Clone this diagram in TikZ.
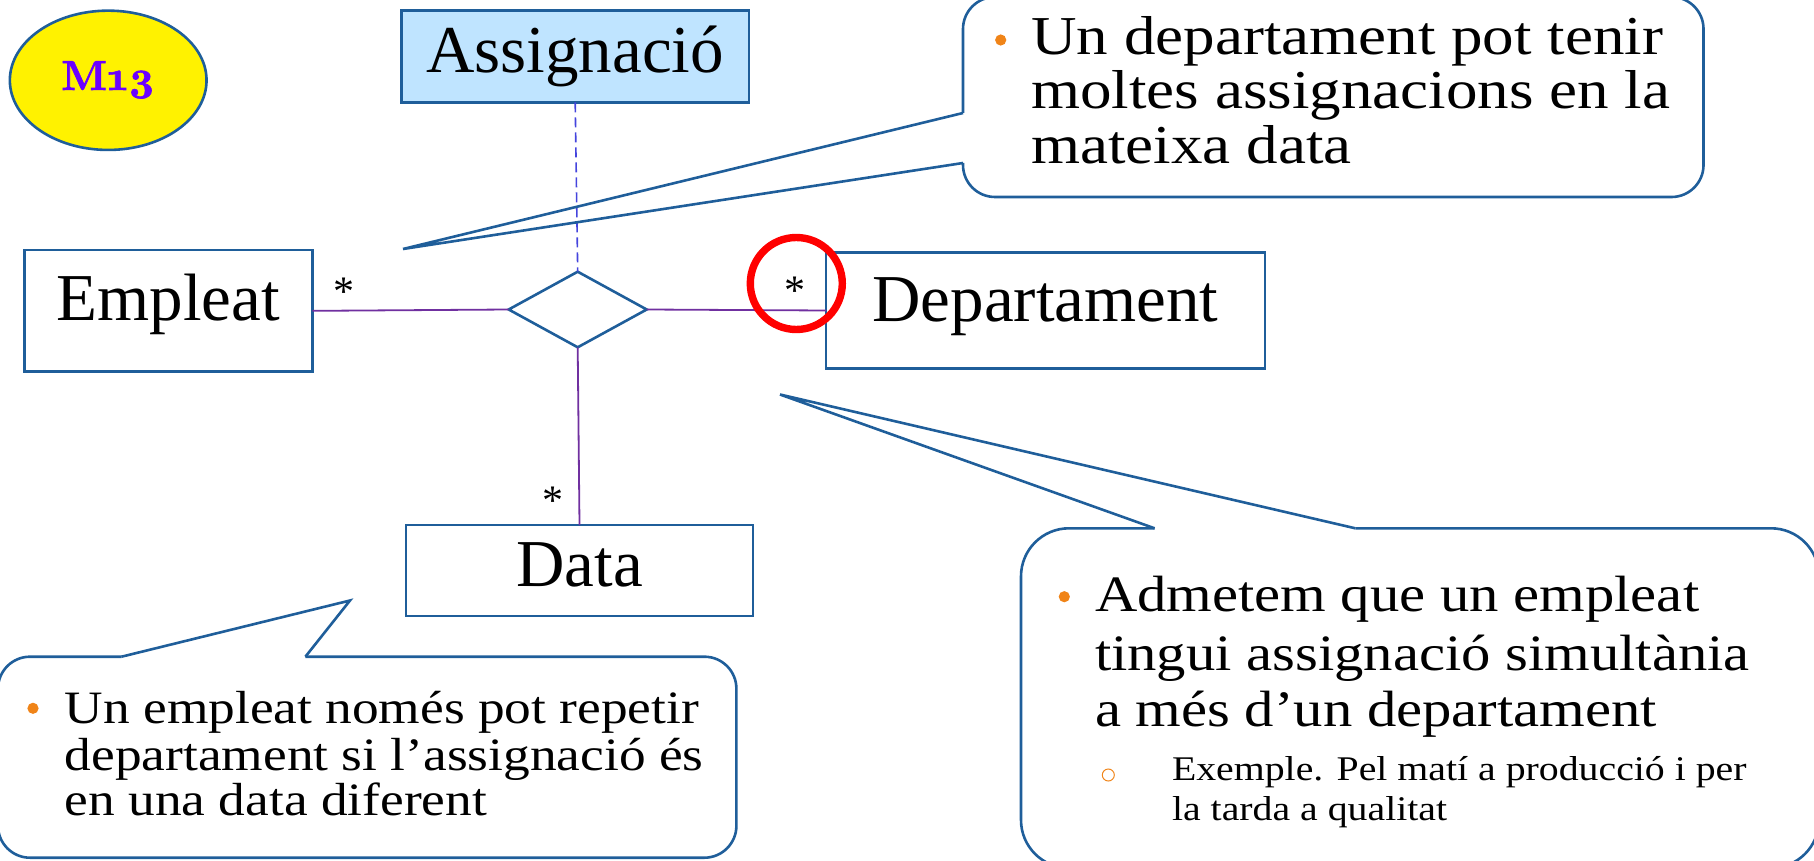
\documentclass[tikz,border=0pt]{standalone}
\usepackage{fontspec}
\setmainfont{Liberation Serif}
\newfontfamily\callfont{Liberation Serif}[FakeStretch=1.15]
\newfontfamily\mfont{lmroman10-bold}[Extension=.otf,Numbers=OldStyle,FakeBold=1.5]
\usetikzlibrary{shapes.geometric}
\definecolor{bord}{HTML}{1F5E9A}
\definecolor{lnk}{HTML}{7030A0}
\definecolor{dsh}{HTML}{4444DD}
\definecolor{orng}{HTML}{F08418}
\definecolor{mpurple}{HTML}{6A00FF}
\definecolor{lblue}{HTML}{BFE4FF}
\begin{document}
\begin{tikzpicture}[x=0.5pt,y=-0.5pt,
  entity/.style={draw=bord, line width=1.3pt, inner sep=0pt, outer sep=0pt, text depth=0pt,
    font=\fontsize{33.5}{36}\selectfont},
  relbox/.style={diamond, draw=bord, line width=1.3pt, inner sep=0pt, outer sep=0pt},
  link/.style={draw=lnk, line width=0.9pt},
  callout/.style={draw=bord, line width=1.3pt},
  txt/.style={anchor=base west, inner sep=0pt, outer sep=0pt},
  mult/.style={anchor=base, inner sep=0pt, font=\fontsize{21}{24}\selectfont},
  bul/.style={circle, fill=orng, inner sep=0pt, minimum size=5.6pt},
  subbul/.style={circle, draw=orng, line width=0.5pt, inner sep=0pt, minimum size=6pt}]
\useasboundingbox (0,0) rectangle (1814,861);

% M13 badge
\node[ellipse, draw=bord, fill=yellow, line width=1.3pt, minimum width=98.35pt, minimum height=69.65pt,
  inner sep=0pt, text height=9.7pt, text depth=0pt, text=mpurple,
  font=\fontsize{21}{24}\mfont] (m13) at (108.2,80.3) {M13};

% entities
\node[entity, fill=lblue, minimum width=173.8pt, minimum height=45.8pt, text height=16.2pt] (asg) at (575.2,56.5) {Assignació};
\node[entity, minimum width=144pt, minimum height=60.85pt, text height=9.2pt] (emp) at (168.35,310.85) {Empleat};
\node[entity, minimum width=219.5pt, minimum height=57.8pt, text height=11.2pt] (dep) at (1045.5,310.5) {Departament};
\node[entity, minimum width=173.5pt, minimum height=45.5pt, text height=16.2pt] (dat) at (579.5,570.5) {Data};
\node[relbox, minimum width=69pt, minimum height=37.8pt] (rel) at (577.7,309.5) {};

% connectors
\draw[link] (emp.east) -- (rel.west);
\draw[link] (rel.east) -- (dep.west);
\draw[link] (rel.south) -- (dat.north);
\draw[draw=dsh, line width=0.8pt, dash pattern=on 5pt off 2.5pt] (asg.south) -- (rel.north);

% multiplicities
\node[mult] (s1) at (343.5,305.6) {*};
\node[mult] (s2) at (795,304.6) {*};
\node[mult] (s3) at (553,514.6) {*};

% red highlight
\draw[red, line width=3.7pt] (796.3,283.5) ellipse [x radius=46, y radius=46];

% callout 1
\coordinate (tip1) at (403,249);
\draw[callout, rounded corners=16pt] (963,163) -- (963,197) -- (1703.5,197) -- (1703.5,-3) -- (963,-3) -- (963,113);
\draw[callout] (963,113) -- (tip1) -- (963,163);
\node[bul] (b1) at (1000.7,40) {};
\node[txt, font=\fontsize{27.4}{30}\callfont] (c1a) at (1031.4,55) {Un departament pot tenir};
\node[txt, font=\fontsize{27.4}{30}\callfont] (c1b) at (1031.4,108.3) {moltes assignacions en la};
\node[txt, font=\fontsize{27.4}{30}\callfont] (c1c) at (1031.4,163.3) {mateixa data};

% callout 2
\coordinate (tip2) at (350,600.5);
\draw[callout, rounded corners=16pt] (305.4,656.7) -- (736.4,656.7) -- (736.4,857.7) -- (-2,857.7) -- (-2,656.7) -- (121.5,656.7);
\draw[callout] (121.5,656.7) -- (tip2) -- (305.4,656.7);
\node[bul] (b2) at (33,708.3) {};
\node[txt, font=\fontsize{23.2}{26}\callfont] (c2a) at (64.8,723.3) {Un empleat només pot repetir};
\node[txt, font=\fontsize{23.2}{26}\callfont] (c2b) at (64.8,770) {departament si l’assignació és};
\node[txt, font=\fontsize{23.2}{26}\callfont] (c2c) at (64.8,815) {en una data diferent};

% callout 3
\coordinate (tip3) at (780,394.5);
\draw[callout, rounded corners=24pt] (1355.3,528.3) -- (1819,528.3) -- (1819,868) -- (1021,868) -- (1021,528.3) -- (1154.6,528.3);
\draw[callout] (1154.6,528.3) -- (tip3) -- (1355.3,528.3);
\node[bul] (b3) at (1064.3,596.7) {};
\node[txt, font=\fontsize{25.5}{28}\callfont] (c3a) at (1095,611.7) {Admetem que un empleat};
\node[txt, font=\fontsize{25.5}{28}\callfont] (c3b) at (1095,670) {tingui assignació simultània};
\node[txt, font=\fontsize{25.5}{28}\callfont] (c3c) at (1095,726.7) {a més d’un departament};
\node[subbul] (b4) at (1108.3,775) {};
\node[txt, font=\fontsize{17.3}{20}\callfont] (c3d) at (1172,780) {Exemple. Pel matí a producció i per};
\node[txt, font=\fontsize{17.3}{20}\callfont] (c3e) at (1172,820) {la tarda a qualitat};
\end{tikzpicture}
\end{document}
